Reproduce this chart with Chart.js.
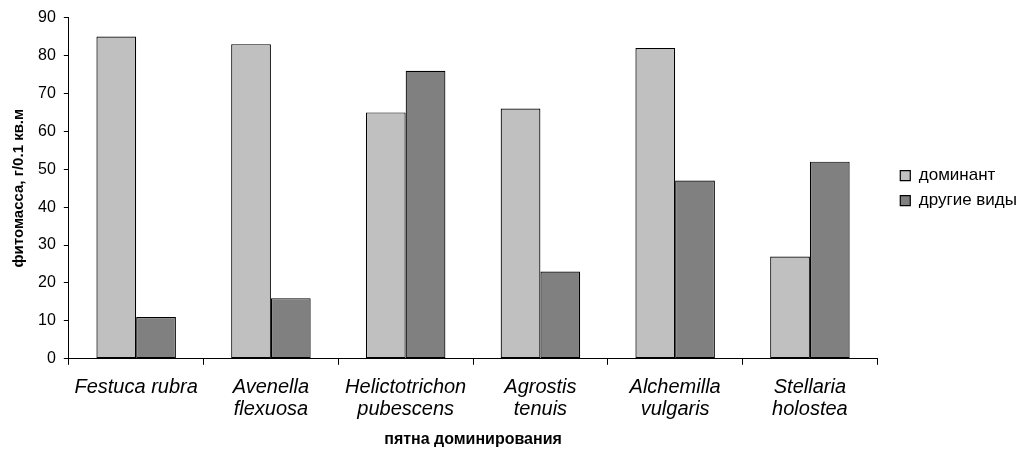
<!DOCTYPE html>
<html>
<head>
<meta charset="utf-8">
<script src="https://cdn.jsdelivr.net/npm/chart.js@4"></script>
<style>
  html, body { margin: 0; padding: 0; background: #fff; }
  #wrap { width: 1018px; height: 457px; }
</style>
</head>
<body>
<div id="wrap"><canvas id="chart" width="1018" height="457"></canvas></div>
<script>
// categories (species)
const categories = [
    "Festuca rubra",
    ["Avenella", "flexuosa"],
    ["Helictotrichon", "pubescens"],
    ["Agrostis", "tenuis"],
    ["Alchemilla", "vulgaris"],
    ["Stellaria", "holostea"]
];

// series values
const dominantValues = [85, 83, 65, 66, 82, 27];
const otherValues = [11, 16, 76, 23, 47, 52];

// y ticks
const yMin = 0;
const yMax = 90;
const yStep = 10;

const fontFamily = "Liberation Sans, Arial, sans-serif";
const ctx = document.getElementById("chart");

new Chart(ctx, {
    type: "bar",
    data: {
        labels: categories,
        datasets: [
            {
                label: "доминант",
                data: dominantValues,
                backgroundColor: "#c0c0c0",
                borderColor: "#000",
                borderWidth: 1.2,
                borderSkipped: false,
                categoryPercentage: 0.59,
                barPercentage: 1.0
            },
            {
                label: "другие виды",
                data: otherValues,
                backgroundColor: "#808080",
                borderColor: "#000",
                borderWidth: 1.2,
                borderSkipped: false,
                categoryPercentage: 0.59,
                barPercentage: 1.0
            }
        ]
    },
    options: {
        responsive: false,
        animation: false,
        layout: {
            padding: { top: 10, right: -9, left: 10, bottom: 6 }
        },
        plugins: {
            legend: {
                position: "right",
                fullSize: false,
                labels: {
                    boxWidth: 10,
                    boxHeight: 10,
                    padding: 8,
                    color: "#000",
                    font: { family: fontFamily, size: 17 }
                }
            },
            tooltip: { enabled: false }
        },
        scales: {
            x: {
                grid: {
                    drawOnChartArea: false,
                    color: "#000",
                    tickLength: 6,
                    offset: true
                },
                border: { color: "#000", width: 1 },
                ticks: {
                    color: "#000",
                    maxRotation: 0,
                    autoSkip: false,
                    padding: 12,
                    font: { family: fontFamily, size: 20, style: "italic", lineHeight: 1.1 }
                },
                title: {
                    display: true,
                    text: "пятна доминирования",
                    color: "#000",
                    padding: { top: -3, bottom: 2 },
                    font: { family: fontFamily, size: 16, weight: "bold" }
                }
            },
            y: {
                min: yMin,
                max: yMax,
                grid: {
                    drawOnChartArea: false,
                    color: "#000",
                    tickLength: 5
                },
                border: { color: "#000", width: 1 },
                ticks: {
                    stepSize: yStep,
                    color: "#000",
                    padding: 8,
                    font: { family: fontFamily, size: 16 }
                },
                title: {
                    display: true,
                    text: "фитомасса, г/0.1 кв.м",
                    color: "#000",
                    padding: { top: 0, bottom: 2 },
                    font: { family: fontFamily, size: 15, weight: "bold" }
                }
            },
            // empty right axis, only keeps a gap before the legend
            gap: {
                type: "linear",
                position: "right",
                grid: { display: false },
                border: { display: false },
                ticks: { display: false },
                afterFit: (scale) => { scale.width = 15; }
            }
        }
    }
});
</script>
</body>
</html>
